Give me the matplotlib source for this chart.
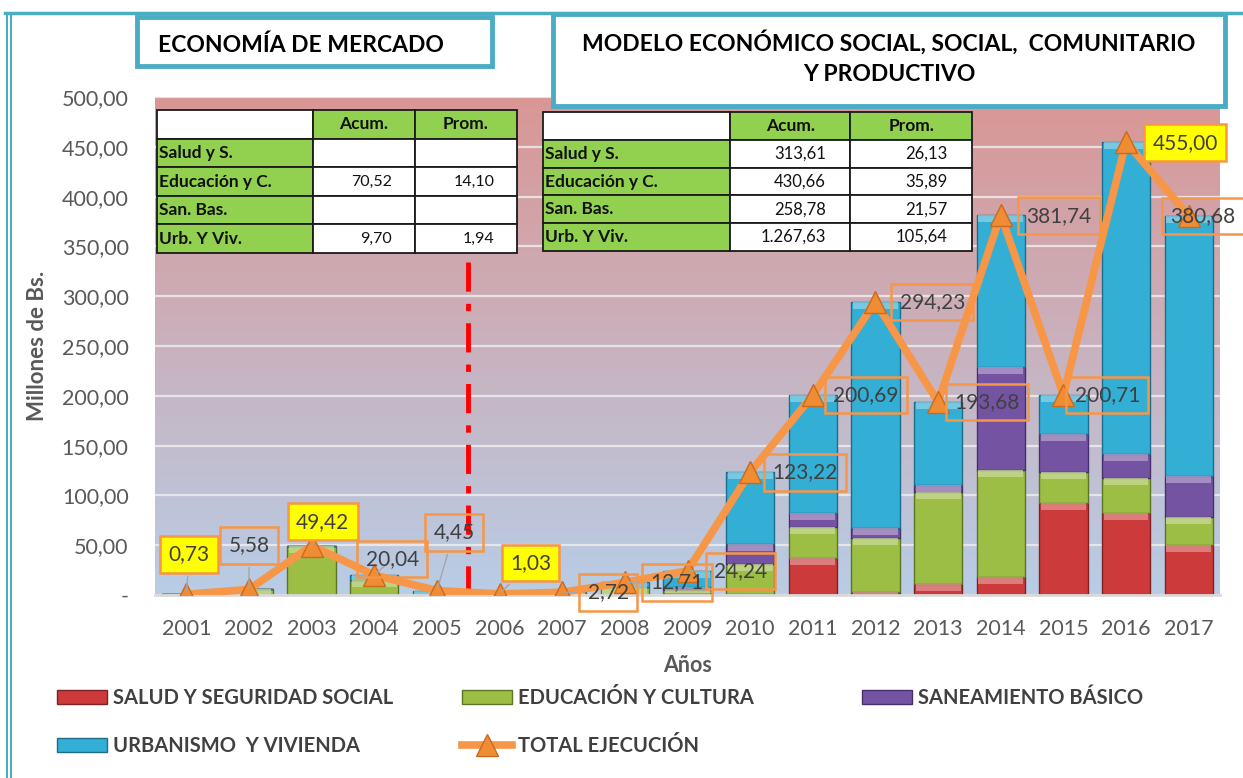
import numpy as np
import matplotlib
matplotlib.use('Agg')
import matplotlib.pyplot as plt
from matplotlib.patches import Rectangle, Patch
from matplotlib.lines import Line2D
from matplotlib.ticker import FuncFormatter, MultipleLocator
import matplotlib.colors as mcolors

# ---------------- data ----------------
years = [str(y) for y in range(2001, 2018)]
salud = [0, 0, 0, 0, 0, 0, 0, 0, 2.0, 1.0, 37.5, 3.0, 10.7, 18.4, 92.0, 82.0, 49.9]
educacion = [0.73, 5.58, 49.42, 14.79, 0, 0, 2.72, 8.0, 3.0, 30.0, 30.5, 54.5, 93.0, 106.8, 31.8, 35.8, 28.7]
saneamiento = [0, 0, 0, 0, 0, 0, 0, 0, 3.0, 20.0, 14.5, 9.5, 6.7, 104.0, 38.0, 23.4, 40.9]
urbanismo = [0, 0, 0, 5.25, 4.45, 1.03, 0, 4.71, 16.24, 72.22, 118.19, 227.23, 83.28, 152.54, 38.91, 313.8, 261.18]
total = [0.73, 5.58, 49.42, 20.04, 4.45, 1.03, 2.72, 12.71, 24.24, 123.22, 200.69,
         294.23, 193.68, 381.74, 200.71, 455.00, 380.68]
highlight_labels = [0, 2, 5, 15]

table_rows = ["Salud y S.", "Educación y C.", "San. Bas.", "Urb. Y Viv."]
table_cols = ["Acum.", "Prom."]
left_acum = ["", "70,52", "", "9,70"]
left_prom = ["", "14,10", "", "1,94"]
right_acum = ["313,61", "430,66", "258,78", "1.267,63"]
right_prom = ["26,13", "35,89", "21,57", "105,64"]

series_names = ["SALUD Y SEGURIDAD SOCIAL", "EDUCACIÓN Y CULTURA", "SANEAMIENTO BÁSICO",
                "URBANISMO  Y VIVIENDA", "TOTAL EJECUCIÓN"]

# ---------------- style ----------------
plt.rcParams['font.family'] = ['Lato', 'DejaVu Sans']
W, H = 1243, 778
fig = plt.figure(figsize=(W / 100, H / 100), dpi=100)
fig.patch.set_facecolor('white')

def fx(px):
    return px / W

def fy(py):
    return 1 - py / H

ax = fig.add_axes([fx(155), fy(595), fx(1220) - fx(155), fy(97) - fy(595)])
n = len(years)
x = np.arange(n)
ax.set_xlim(-0.5, n - 0.5)
ax.set_ylim(0, 500)

# gradient background
top = np.array([218, 150, 149]) / 255
bot = np.array([184, 205, 230]) / 255
t = np.linspace(0, 1, 256)[:, None]
grad = (top[None, :] * (1 - t) + bot[None, :] * t)[:, None, :]
ax.imshow(grad, extent=[-0.5, n - 0.5, 0, 500], aspect='auto', zorder=0, origin='upper')

ax.set_axisbelow(True)
ax.yaxis.grid(True, color='#EDEDED', lw=1.6, alpha=0.85)
ax.yaxis.set_major_locator(MultipleLocator(50))
for s in ['top', 'right', 'left']:
    ax.spines[s].set_visible(False)
ax.spines['bottom'].set_color('#D9D9D9')
ax.spines['bottom'].set_linewidth(2)

colors = ['#CC3A3B', '#9DBE45', '#7454A2', '#33AED4']
edges = ['#7E2224', '#5C7426', '#45306A', '#1C6E8C']
bw = 0.77
bottom = np.zeros(n)
for vals, c, e in zip([salud, educacion, saneamiento, urbanismo], colors, edges):
    v = np.array(vals)
    ax.bar(x, v, bw, bottom=bottom, color=c, edgecolor=e, linewidth=1.0, zorder=2)
    # bevel highlight on the top of each segment
    light = mcolors.to_rgb(c)
    light = tuple(min(1, ch + (1 - ch) * 0.45) for ch in light)
    hh = np.minimum(v, 7.0)
    ax.bar(x, hh, bw * 0.93, bottom=bottom + v - hh, color=light, linewidth=0, zorder=2.1, alpha=0.75)
    bottom += v

ax.plot(x, total, color='#F79646', lw=5.5, zorder=4, solid_joinstyle='miter')
ax.plot(x, total, ls='none', marker='^', ms=16, mfc='#F08C34', mec='#C96A1E', mew=1, zorder=5)

# data labels (offsets in pixels)
offsets = [(3, 40), (0, 44), (11, 24), (18, 16), (17, 58), (31, 31), (46, 0), (52, 0), (53, 0),
           (55, 0), (53, 0), (57, 0), (49, 0), (58, -1), (44, 0), (59, -1), (14, 0)]
for i, v in enumerate(total):
    lab = f"{v:.2f}".replace('.', ',')
    fc = '#FFFF00' if i in highlight_labels else 'none'
    arrow = dict(arrowstyle='-', color='#A6A6A6', lw=1) if i < 9 else None
    ax.annotate(lab, (x[i], v), xytext=offsets[i], textcoords='offset pixels',
                ha='center', va='center', fontsize=15, color='#404040',
                bbox=dict(boxstyle='square,pad=0.4', fc=fc, ec='#F79646', lw=1.8),
                arrowprops=arrow, zorder=6, annotation_clip=False)

# red divider
ax.axvline(4.5, ymin=0, ymax=0.69, color='#FF0000', lw=3.5, ls=(0, (6, 2.5, 1.5, 2.5)), zorder=3)

# ticks
ax.set_xticks(x)
ax.set_xticklabels(years)
ax.tick_params(axis='x', length=0, pad=17, labelsize=15.5, labelcolor='#595959')
ax.tick_params(axis='y', length=0, pad=19, labelsize=15.5, labelcolor='#595959')
ax.yaxis.set_major_formatter(FuncFormatter(lambda v, p: '-' if v == 0 else f"{v:.2f}".replace('.', ',')))
ax.set_xlabel('Años', fontsize=15.5, fontweight='bold', color='#595959', labelpad=12)
ax.set_ylabel('Millones de Bs.', fontsize=16, fontweight='bold', color='#595959', labelpad=10)

# tables
def make_table(acum, prom, x0, x1, y0, y1, widths, vpad, vsize):
    cell_text = [[""] + table_cols] + [[r, a, p] for r, a, p in zip(table_rows, acum, prom)]
    bx0 = (x0 - 155) / (1220 - 155)
    bx1 = (x1 - 155) / (1220 - 155)
    by0 = (595 - y1) / 498
    by1 = (595 - y0) / 498
    tb = ax.table(cellText=cell_text, bbox=[bx0, by0, bx1 - bx0, by1 - by0], colWidths=widths)
    tb.auto_set_font_size(False)
    tb.set_zorder(10)
    for (r, c), cell in tb.get_celld().items():
        cell.set_edgecolor('#1A1A1A')
        cell.set_linewidth(1.3)
        txt = cell.get_text()
        if r == 0:
            cell.set_facecolor('white' if c == 0 else '#92D050')
            txt.set_horizontalalignment('center')
            txt.set_fontweight('bold')
            txt.set_fontsize(12.5)
        elif c == 0:
            cell.set_facecolor('#92D050')
            txt.set_horizontalalignment('left')
            cell.PAD = 0.01
            txt.set_fontweight('bold')
            txt.set_fontsize(12.5)
        else:
            cell.set_facecolor('white')
            txt.set_horizontalalignment('right')
            cell.PAD = vpad
            txt.set_fontsize(vsize)
        txt.set_color('#111111')
    return tb

make_table(left_acum, left_prom, 157, 517, 110, 253, [0.433, 0.283, 0.284], 0.22, 11.5)
make_table(right_acum, right_prom, 543, 972, 112, 251, [0.436, 0.28, 0.284], 0.2, 12)

# title boxes
cy = '#4BACC6'
fig.add_artist(Rectangle((fx(137), fy(66)), fx(492) - fx(137), fy(17) - fy(66), transform=fig.transFigure,
                         fc='white', ec=cy, lw=3.5, zorder=20))
fig.text(fx(158), fy(45), 'ECONOMÍA DE MERCADO', fontsize=16.5, fontweight='bold', color='black',
         ha='left', va='center', zorder=21)
fig.add_artist(Rectangle((fx(553), fy(106)), fx(1225) - fx(553), fy(14) - fy(106), transform=fig.transFigure,
                         fc='white', ec=cy, lw=3.5, zorder=20))
fig.text(fx(889), fy(57), 'MODELO ECONÓMICO SOCIAL, SOCIAL,  COMUNITARIO\nY PRODUCTIVO', fontsize=16.5,
         fontweight='bold', color='black', ha='center', va='center', linespacing=1.55, zorder=21)

# outer frame
fig.add_artist(Line2D([fx(5), 1], [fy(13), fy(13)], transform=fig.transFigure, color=cy, lw=2.5, zorder=19))
fig.add_artist(Line2D([fx(7), fx(7)], [0, fy(13)], transform=fig.transFigure, color=cy, lw=1.5, zorder=19))
fig.add_artist(Line2D([fx(11), fx(11)], [0, fy(13)], transform=fig.transFigure, color=cy, lw=1.5, zorder=19))

# legends
def patch(i):
    return Patch(facecolor=colors[i], edgecolor=edges[i], lw=1)

line_h = Line2D([], [], color='#F79646', lw=5.5, marker='^', ms=16, mfc='#F08C34', mec='#C96A1E')
groups = [([patch(0), patch(3)], [series_names[0], series_names[3]], 57),
          ([patch(1), line_h], [series_names[1], series_names[4]], 462),
          ([patch(2)], [series_names[2]], 862)]
for hs, ls, px in groups:
    fig.legend(hs, ls, loc='upper left', bbox_to_anchor=(fx(px), fy(688)),
               frameon=False, borderpad=0, borderaxespad=0, handlelength=2.5, handleheight=0.7,
               handletextpad=0.3, labelspacing=1.38,
               prop={'family': ['Lato', 'DejaVu Sans'], 'weight': 'bold', 'size': 14.5},
               labelcolor='#404040')

fig.savefig('out.png', dpi=100)
